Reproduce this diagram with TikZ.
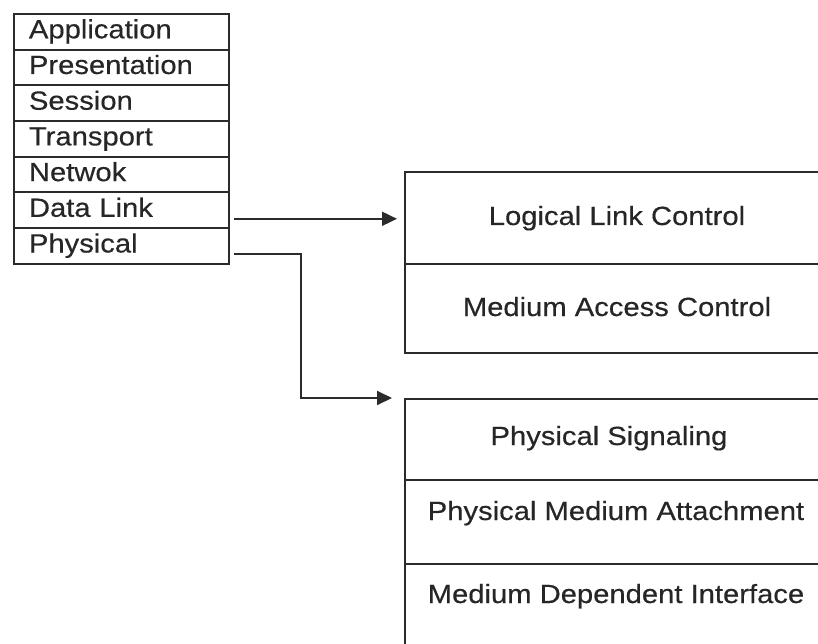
\documentclass[tikz,border=0pt]{standalone}
\usepackage{fontspec}
\setmainfont[FakeStretch=1.11, FakeBold=0.4]{Liberation Sans}
\usetikzlibrary{arrows.meta}
\definecolor{ink}{HTML}{2B2B2B}
\definecolor{txt}{HTML}{262626}
\tikzset{
  layer/.style={draw=ink, line width=1.9pt, rectangle, anchor=north west,
    minimum width=215pt, minimum height=35.7pt, text width=185pt,
    inner xsep=15pt, inner ysep=0pt, align=left,
    text height=18.5pt, text depth=5.5pt, text=txt},
  sublayer/.style={draw=ink, line width=1.9pt, rectangle, anchor=north west,
    minimum width=426pt, inner sep=0pt},
  lbl/.style={anchor=base, text=txt, inner sep=0pt},
  link/.style={draw=ink, line width=1.9pt,
    -{Triangle[length=15pt,width=14pt]}},
}
\begin{document}
\begin{tikzpicture}[x=1pt, y=-1pt, font=\fontsize{26.3}{31}\selectfont]
  \useasboundingbox (0,0) rectangle (818,644);
  \clip (0,0) rectangle (818,644);

  % seven-layer OSI stack
  \node[layer] (app)   at (13, 13.0)  {Application};
  \node[layer] (pres)  at (13, 48.7)  {Presentation};
  \node[layer] (sess)  at (13, 84.4)  {Session};
  \node[layer] (trans) at (13, 120.1) {Transport};
  \node[layer] (net)   at (13, 155.8) {Netwok};
  \node[layer] (dl)    at (13, 191.5) {Data Link};
  \node[layer] (phys)  at (13, 227.2) {Physical};

  % data link sublayers
  \node[sublayer, minimum height=92pt] (llc) at (404,171) {};
  \node[sublayer, minimum height=89pt] (mac) at (404,263) {};
  \node[lbl] (llctext) at (617,225) {Logical Link Control};
  \node[lbl] (mactext) at (617,316) {Medium Access Control};

  % physical sublayers
  \node[sublayer, minimum height=81pt] (ps)  at (404,398) {};
  \node[sublayer, minimum height=84pt] (pma) at (404,479) {};
  \node[sublayer, minimum height=100pt] (mdi) at (404,563) {};
  \node[lbl] (pstext)  at (609,445) {Physical Signaling};
  \node[lbl] (pmatext) at (616,520) {Physical Medium Attachment};
  \node[lbl] (mditext) at (616,603) {Medium Dependent Interface};

  % connectors
  \coordinate (s1) at ([shift={(4pt,-8.5pt)}]dl.east);
  \coordinate (s2) at ([shift={(4pt,-8pt)}]phys.east);
  \draw[link, shorten >=7pt] (s1) -- (s1 -| llc.west);
  \draw[link] (s2) -- ++(67,0) |- ([xshift=-12pt]ps.north west);
\end{tikzpicture}
\end{document}
